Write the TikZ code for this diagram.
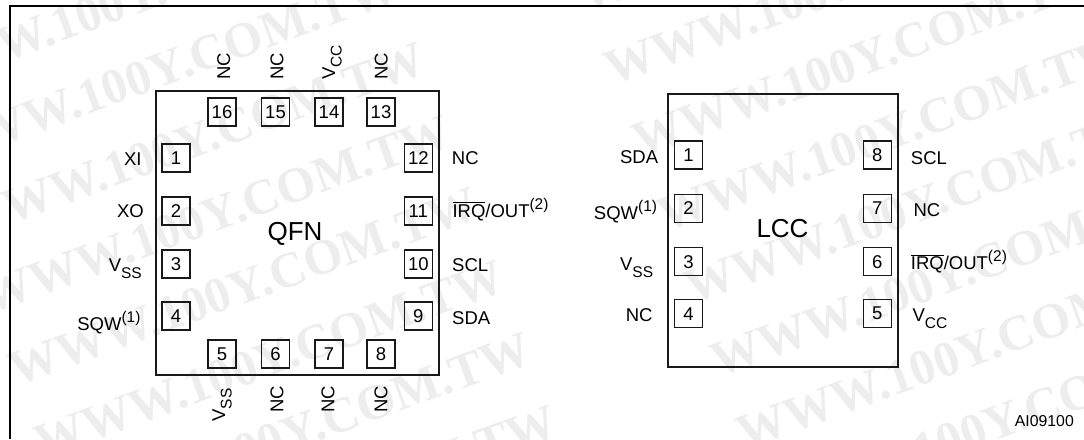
\documentclass[tikz,border=0pt]{standalone}
\usepackage{fontspec}
\setmainfont{Liberation Sans}
\newfontfamily\markfont{Liberation Serif}
\newcommand{\subtxt}[1]{\raisebox{-6.5pt}{\fontsize{15.5}{16}\selectfont #1}}
\newcommand{\suptxt}[1]{\raisebox{8pt}{\fontsize{15.5}{16}\selectfont #1}}
\begin{document}
\begin{tikzpicture}[x=1pt,y=-1pt,
	pin/.style={draw=black!90,line width=1.1pt,minimum size=28pt,inner sep=0pt,font=\fontsize{18.5}{20}\selectfont},
	lbl/.style={inner sep=0pt,text=black,font=\fontsize{18.5}{20}\selectfont},
	lblup/.style={lbl,rotate=90,anchor=base west},
	title/.style={inner sep=0pt,anchor=base,font=\fontsize{26}{28}\selectfont},
	chip/.style={draw=black!90,line width=1.7pt},
	stamp/.style={inner sep=0pt,anchor=base east,rotate=20,text=black!7,font=\markfont\bfseries\fontsize{50}{54}\selectfont}]
	\useasboundingbox (0,0) rectangle (1084,439);
	% marca de agua
	\foreach \mx/\my in {375.5/-72.5,402/0,428.5/72.5,455/145,481.5/217.5,508/290,534.5/362.5,561/435,
		1052/-157,1078/-84,1106/-12,1131/63,1157.5/135.5,1184/208,1210/281,1237/353}
		\node[stamp] at (\mx,\my) {WWW.100Y.COM.TW};
	\draw[line width=2pt] (10,439) -- (10,6) -- (1084,6);
	% QFN
	\draw[chip] (155.7,90.7) rectangle (439.3,375);
	\node[title] (qfn) at (295,240) {QFN};
	\foreach \num/\px/\py in {1/176/158,2/176/211,3/176/264,4/176/316,
		5/222/354,6/275.5/354,7/329/354,8/381/354,
		9/418.3/316,10/418.3/264,11/418.3/211,12/418.3/158,
		13/381/112,14/329/112,15/275.5/112,16/222/112}
		\node[pin] (q\num) at (\px,\py) {\num};
	\node[lbl,anchor=base east] (qxi) at (141.7,165) {XI};
	\node[lbl,anchor=base east] (qxo) at (144,217) {XO};
	\node[lbl,anchor=base east] (qvss) at (142,271.7) {V\subtxt{SS}};
	\node[lbl,anchor=base east] (qsqw) at (140.7,330) {SQW\suptxt{(1)}};
	\node[lbl,anchor=base west] (qnca) at (451.7,164.3) {NC};
	\node[lbl,anchor=base west] (qirq) at (452.3,217) {$\overline{\mbox{IRQ}}$/OUT\suptxt{(2)}};
	\node[lbl,anchor=base west] (qscl) at (452,271.7) {SCL};
	\node[lbl,anchor=base west] (qsda) at (452,324) {SDA};
	\node[lblup] (qncb) at (230,80) {NC};
	\node[lblup] (qncc) at (283.3,80) {NC};
	\node[lblup] (qvcc) at (335,80) {V\subtxt{CC}};
	\node[lblup] (qncd) at (387.7,80) {NC};
	\node[lblup] (qvssb) at (225,421.7) {V\subtxt{SS}};
	\node[lblup] (qnce) at (283.3,412.7) {NC};
	\node[lblup] (qncf) at (334.3,412.7) {NC};
	\node[lblup] (qncg) at (387.3,412.7) {NC};
	% LCC
	\draw[chip] (667.7,94.3) rectangle (898,366.7);
	\node[title] (lcc) at (782.5,237.3) {LCC};
	\foreach \num/\px/\py in {1/688.5/155,2/688.5/208.3,3/688.5/261.7,4/688.5/313.7,
		5/877.2/313.7,6/877.2/261.7,7/877.2/208.3,8/877.2/155}
		\node[pin] (l\num) at (\px,\py) {\num};
	\node[lbl,anchor=base east] (lsda) at (658.3,163.3) {SDA};
	\node[lbl,anchor=base east] (lsqw) at (657.3,219.3) {SQW\suptxt{(1)}};
	\node[lbl,anchor=base east] (lvss) at (653.3,270.7) {V\subtxt{SS}};
	\node[lbl,anchor=base east] (lnc) at (652.7,321.7) {NC};
	\node[lbl,anchor=base west] (lscl) at (910.7,164.3) {SCL};
	\node[lbl,anchor=base west] (lncb) at (913.3,216.7) {NC};
	\node[lbl,anchor=base west] (lirq) at (910.7,269.3) {$\overline{\mbox{IRQ}}$/OUT\suptxt{(2)}};
	\node[lbl,anchor=base west] (lvcc) at (912.3,321.7) {V\subtxt{CC}};
	\node[lbl,anchor=base east,font=\fontsize{15.8}{17}\selectfont] (ref) at (1074,426) {AI09100};
\end{tikzpicture}
\end{document}
